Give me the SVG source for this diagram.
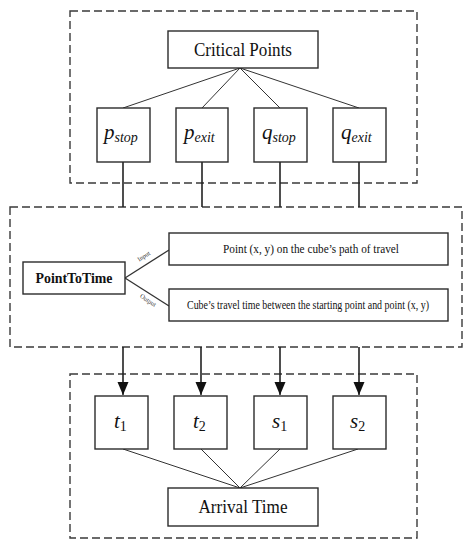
<svg xmlns="http://www.w3.org/2000/svg" width="473" height="550" viewBox="0 0 473 550">
<style>
.bg{fill:#fff}
.box{fill:#fff;stroke:#2b2b2b;stroke-width:1.4}
.dash{fill:none;stroke:#3a3a3a;stroke-width:1.4;stroke-dasharray:8,4}
.ln{stroke:#333;stroke-width:1;fill:none}
.vl{stroke:#222;stroke-width:1.6;fill:none}
.title{font-family:"Liberation Serif","DejaVu Serif",serif;font-size:18px;fill:#111;text-anchor:middle}
.math{font-family:"Liberation Serif","DejaVu Serif",serif;font-style:italic;font-size:21px;fill:#111}
.sub{font-family:"Liberation Serif","DejaVu Serif",serif;font-size:14px;fill:#111}
.small{font-family:"Liberation Serif","Times New Roman",serif;font-size:11.5px;fill:#111;text-anchor:middle}
.tiny{font-family:"Liberation Serif",serif;font-size:6.5px;fill:#333;text-anchor:middle}
</style>
<defs>
<marker id="arr" markerUnits="userSpaceOnUse" markerWidth="12" markerHeight="14" refX="13" refY="5.5" orient="auto">
<path d="M0,0 L13,5.5 L0,11 Z" fill="#111"/>
</marker>
</defs>
<rect class="bg" x="0" y="0" width="473" height="550"/>
<g id="group-critical"><rect class="dash" x="70" y="11" width="347" height="172"/></g>
<g id="group-pointtotime"><rect class="dash" x="10" y="207" width="452" height="140"/></g>
<g id="group-arrival"><rect class="dash" x="70" y="374" width="347" height="164"/></g>

<g id="connectors">
<line class="ln" x1="240" y1="68" x2="123" y2="108"/>
<line class="ln" x1="240" y1="68" x2="202" y2="108"/>
<line class="ln" x1="240" y1="68" x2="280" y2="108"/>
<line class="ln" x1="240" y1="68" x2="359" y2="108"/>
<line class="vl" x1="123" y1="162" x2="123" y2="207"/>
<line class="vl" x1="202" y1="162" x2="202" y2="207"/>
<line class="vl" x1="280" y1="162" x2="280" y2="207"/>
<line class="vl" x1="359" y1="162" x2="359" y2="207"/>
<line class="vl" x1="123" y1="347" x2="123" y2="395" marker-end="url(#arr)"/>
<line class="vl" x1="201" y1="347" x2="201" y2="395" marker-end="url(#arr)"/>
<line class="vl" x1="280" y1="347" x2="280" y2="395" marker-end="url(#arr)"/>
<line class="vl" x1="359" y1="347" x2="359" y2="395" marker-end="url(#arr)"/>
<line class="ln" x1="125" y1="278" x2="169" y2="250" style="stroke-width:1.3"/>
<line class="ln" x1="125" y1="278" x2="169" y2="306" style="stroke-width:1.3"/>
<text class="tiny" transform="translate(145,258) rotate(-33)">Input</text>
<text class="tiny" transform="translate(147,302) rotate(33)">Output</text>
<line class="ln" x1="123" y1="449" x2="240" y2="488"/>
<line class="ln" x1="201" y1="449" x2="240" y2="488"/>
<line class="ln" x1="280" y1="449" x2="240" y2="488"/>
<line class="ln" x1="358" y1="449" x2="240" y2="488"/>
</g>

<g id="critical-points"><rect class="box" x="168" y="31" width="150" height="37"/><text class="title" x="243" y="56" textLength="98" lengthAdjust="spacingAndGlyphs">Critical Points</text></g>
<g id="p-stop"><rect class="box" x="97" y="108" width="53" height="54"/><text class="math" x="104" y="139">p<tspan class="sub" dy="3">stop</tspan></text></g>
<g id="p-exit"><rect class="box" x="176" y="108" width="52" height="54"/><text class="math" x="184" y="139">p<tspan class="sub" dy="3">exit</tspan></text></g>
<g id="q-stop"><rect class="box" x="254" y="108" width="53" height="54"/><text class="math" x="262" y="139">q<tspan class="sub" dy="3">stop</tspan></text></g>
<g id="q-exit"><rect class="box" x="333" y="108" width="53" height="54"/><text class="math" x="341" y="139">q<tspan class="sub" dy="3">exit</tspan></text></g>

<g id="point-to-time"><rect class="box" x="23" y="262" width="102" height="32"/><text class="title" x="74" y="283" style="font-size:15px;font-weight:bold" textLength="77" lengthAdjust="spacingAndGlyphs">PointToTime</text></g>
<g id="input-box"><rect class="box" x="169" y="233" width="279" height="32"/><text class="small" x="311" y="253" textLength="176" lengthAdjust="spacingAndGlyphs">Point (x, y) on the cube’s path of travel</text></g>
<g id="output-box"><rect class="box" x="169" y="289" width="279" height="32"/><text class="small" x="308" y="309" textLength="242" lengthAdjust="spacingAndGlyphs">Cube’s travel time between the starting point and point (x, y)</text></g>

<g id="t1"><rect class="box" x="95" y="396" width="53" height="53"/><text class="math" x="114" y="428">t<tspan class="sub" style="font-style:normal" dy="3">1</tspan></text></g>
<g id="t2"><rect class="box" x="174" y="396" width="53" height="53"/><text class="math" x="193" y="428">t<tspan class="sub" style="font-style:normal" dy="3">2</tspan></text></g>
<g id="s1"><rect class="box" x="254" y="396" width="53" height="53"/><text class="math" x="272" y="428">s<tspan class="sub" style="font-style:normal" dy="3">1</tspan></text></g>
<g id="s2"><rect class="box" x="333" y="396" width="53" height="53"/><text class="math" x="350" y="428">s<tspan class="sub" style="font-style:normal" dy="3">2</tspan></text></g>

<g id="arrival-time"><rect class="box" x="168" y="488" width="150" height="38"/><text class="title" x="243" y="513" textLength="89" lengthAdjust="spacingAndGlyphs">Arrival Time</text></g>
</svg>
